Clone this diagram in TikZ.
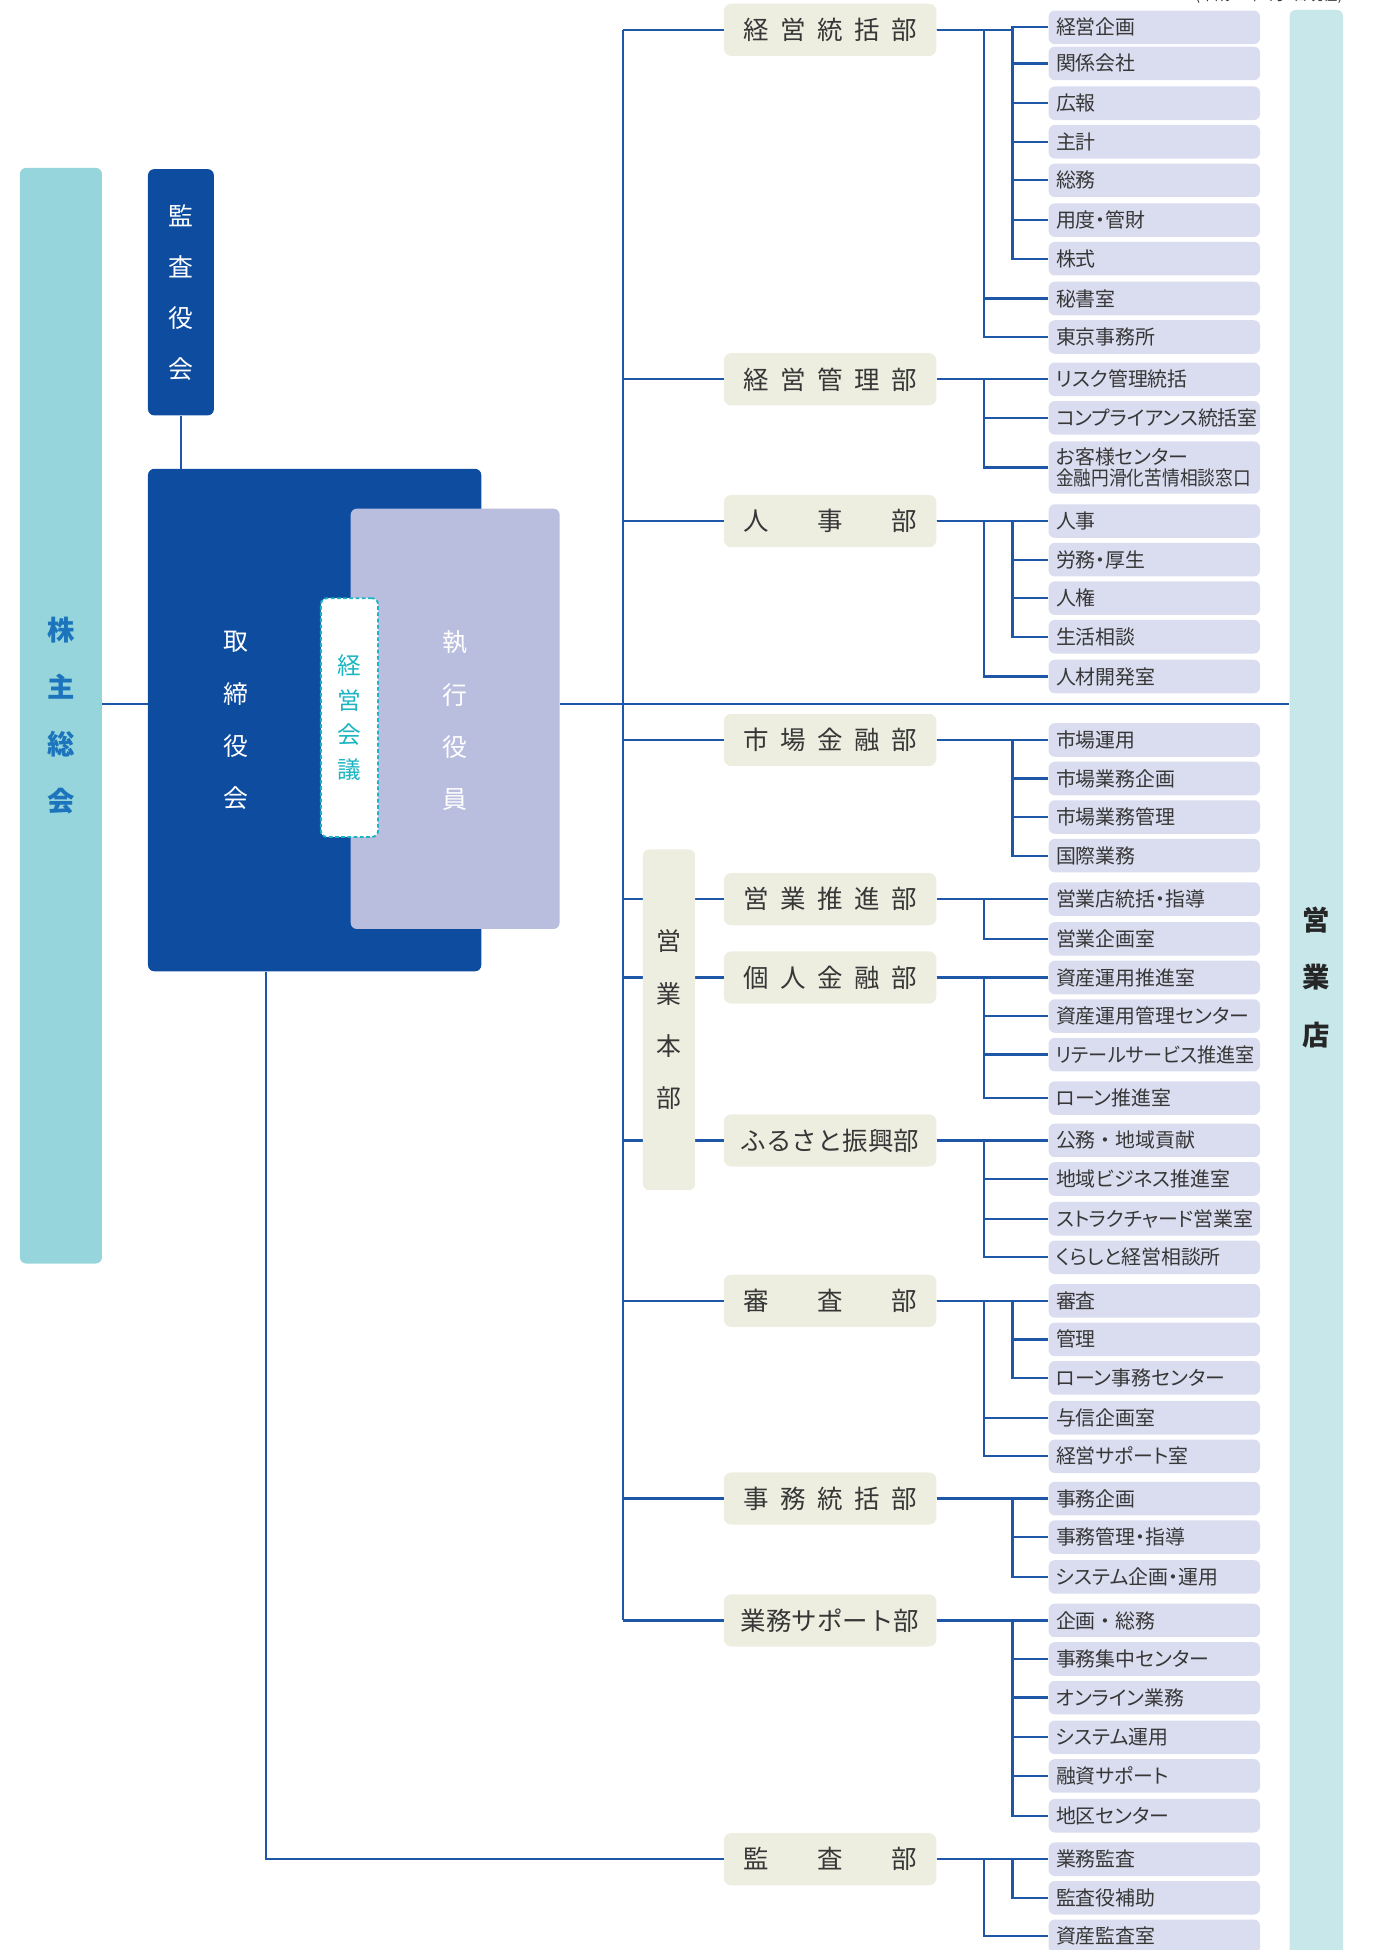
\documentclass[tikz,border=0pt]{standalone}
\usepackage{fontspec}
\setmainfont{Noto Sans CJK JP}
\newfontfamily\propfont[RawFeature=+palt]{Noto Sans CJK JP}
\usepackage{graphicx}
\usepackage{tikz}
\usetikzlibrary{positioning}
\usepackage{xcolor}
\definecolor{boardblue}{RGB}{14,76,159}
\definecolor{linkblue}{RGB}{30,86,168}
\tikzset{boardbox/.style={rectangle, rounded corners=5pt, fill=boardblue, inner sep=0pt},link/.style={linkblue, line width=1.8pt}}
\definecolor{holderteal}{RGB}{150,213,219}
\definecolor{holdertext}{RGB}{28,117,188}
\definecolor{branchteal}{RGB}{199,231,234}
\tikzset{stripbox/.style={rectangle, rounded corners=5pt, inner sep=0pt, align=center}}
\definecolor{officerlilac}{RGB}{186,190,222}
\definecolor{meetingteal}{RGB}{27,181,194}
\definecolor{deptbeige}{RGB}{237,238,224}
\definecolor{unitlilac}{RGB}{218,220,239}
\definecolor{inkgray}{RGB}{55,55,55}
\tikzset{deptnode/.style={rectangle, rounded corners=6pt, fill=deptbeige, minimum width=171pt, minimum height=42pt, inner sep=0pt, text=inkgray, font=\fontsize{20.5}{24}\selectfont},unitnode/.style={rectangle, rounded corners=5pt, fill=unitlilac, anchor=west, minimum width=170pt, minimum height=27pt, inner xsep=6pt, inner ysep=0pt, text width=158pt, align=left, text=inkgray, font=\propfont\fontsize{16}{17}\selectfont}}

\begin{document}
\begin{tikzpicture}[
        x=1pt, y=-1pt,
        vstack/.style={align=center, inner sep=0pt},
        link/.style={linkblue, line width=1.8pt},
    ]
        \useasboundingbox (0,0) rectangle (1107,1568);
        % Date note (cut at the top edge)
        \node[anchor=south east, inner sep=0pt, text=inkgray, font=\propfont\fontsize{12}{14}\selectfont] (asof) at (1080,3) {(平成27年7月1日現在)};
        % Left side
        \node[stripbox, fill=holderteal, minimum width=66pt, minimum height=881pt, text=holdertext, font=\bfseries\fontsize{22}{46}\selectfont] (kabunushi) at (49,575.5) {株\\主\\総\\会};
        \node[boardbox, minimum width=53pt, minimum height=198pt, text=white, align=center, font=\fontsize{20}{41}\selectfont] (kansayaku) at (145.5,235) {監\\査\\役\\会};
        \node[boardbox, minimum width=268pt, minimum height=404pt] (torishimari) at (253,579) {};
        \node[vstack, text=white, font=\fontsize{20}{42}\selectfont] (torishimaritext) at (190,579.5) {取\\締\\役\\会};
        \node[boardbox, fill=officerlilac, minimum width=168pt, minimum height=338pt] (shikko) at (366,578) {};
        \node[vstack, text=white, font=\fontsize{20}{42}\selectfont] (shikkotext) at (366,579.5) {執\\行\\役\\員};
        \node[rectangle, rounded corners=5pt, fill=white, draw=meetingteal, line width=1.5pt, dash pattern=on 3pt off 2pt, minimum width=46pt, minimum height=192pt, inner sep=0pt, align=center, text=meetingteal, font=\fontsize{19}{28}\selectfont] (kaigi) at (281,577) {経\\営\\会\\議};
        % Right side
        \node[stripbox, fill=branchteal, minimum width=43pt, minimum height=1572pt] (eigyoten) at (1058.5,794) {};
        \node[vstack, text=black!85, font=\bfseries\fontsize{22}{46}\selectfont] (eigyotentext) at (1058.5,786) {営\\業\\店};
        % Departments
        \node[deptnode] (keieitokatsu) at (667.5,24) {\makebox[140pt][s]{経\hfill 営\hfill 統\hfill 括\hfill 部}};
        \node[deptnode] (keieikanri) at (667.5,305) {\makebox[140pt][s]{経\hfill 営\hfill 管\hfill 理\hfill 部}};
        \node[deptnode] (jinji) at (667.5,419) {\makebox[140pt][s]{人\hfill 事\hfill 部}};
        \node[deptnode] (shijo) at (667.5,595) {\makebox[140pt][s]{市\hfill 場\hfill 金\hfill 融\hfill 部}};
        \node[deptnode] (eigyosuishin) at (667.5,723) {\makebox[140pt][s]{営\hfill 業\hfill 推\hfill 進\hfill 部}};
        \node[deptnode] (kojin) at (667.5,786) {\makebox[140pt][s]{個\hfill 人\hfill 金\hfill 融\hfill 部}};
        \node[deptnode] (furusato) at (667.5,917) {ふるさと振興部};
        \node[deptnode] (shinsa) at (667.5,1046) {\makebox[140pt][s]{審\hfill 査\hfill 部}};
        \node[deptnode] (jimu) at (667.5,1205) {\makebox[140pt][s]{事\hfill 務\hfill 統\hfill 括\hfill 部}};
        \node[deptnode] (gyomusupport) at (667.5,1303) {業務サポート部};
        \node[deptnode] (kansabu) at (667.5,1495) {\makebox[140pt][s]{監\hfill 査\hfill 部}};
        % Lines
        \coordinate (mainline) at (0,566);
        \draw[link] (kabunushi.east |- mainline) -- (torishimari.west |- mainline);
        \draw[link] (shikko.east |- mainline) -- (eigyoten.west |- mainline);
        \draw[link, line width=1.2pt] (kansayaku.south) -- (kansayaku.south |- torishimari.north);
        \draw[link] ([xshift=-81pt]keieitokatsu.west) -- ([xshift=-81pt]gyomusupport.west);
        \foreach \dept in {keieitokatsu, keieikanri, jinji, shijo, eigyosuishin, kojin, furusato, shinsa, jimu, gyomusupport} {
            \draw[link] (\dept.west) -- ++(-81,0);
        }
        \draw[link] ([xshift=-39pt]torishimari.south) |- (kansabu.west);
        % Units
        \foreach \y/\bus/\dept/\txt in {
            22/61/keieitokatsu/経営企画,
            51/61/keieitokatsu/関係会社,
            83/61/keieitokatsu/広報,
            114/61/keieitokatsu/主計,
            145/61/keieitokatsu/総務,
            177/61/keieitokatsu/用度・管財,
            208/61/keieitokatsu/株式,
            240/38/keieitokatsu/秘書室,
            271/38/keieitokatsu/東京事務所,
            305/38/keieikanri/リスク管理統括,
            336/38/keieikanri/コンプライアンス統括室,
            419/61/jinji/人事,
            450/61/jinji/労務・厚生,
            481/61/jinji/人権,
            512/61/jinji/生活相談,
            544/38/jinji/人材開発室,
            595/61/shijo/市場運用,
            626/61/shijo/市場業務企画,
            657/61/shijo/市場業務管理,
            688/61/shijo/国際業務,
            723/38/eigyosuishin/営業店統括・指導,
            755/38/eigyosuishin/営業企画室,
            786/38/kojin/資産運用推進室,
            817/38/kojin/資産運用管理センター,
            848/38/kojin/{\scalebox{0.96}[1]{リテールサービス推進室}},
            883/38/kojin/ローン推進室,
            917/38/furusato/公務{\rmfamily ・}地域貢献,
            948/38/furusato/地域ビジネス推進室,
            980/38/furusato/ストラクチャード営業室,
            1011/38/furusato/くらしと経営相談所,
            1046/61/shinsa/審査,
            1077/61/shinsa/管理,
            1108/61/shinsa/ローン事務センター,
            1140/38/shinsa/与信企画室,
            1171/38/shinsa/経営サポート室,
            1205/61/jimu/事務企画,
            1236/61/jimu/事務管理・指導,
            1268/61/jimu/システム企画・運用,
            1303/61/gyomusupport/企画{\rmfamily ・}総務,
            1334/61/gyomusupport/事務集中センター,
            1365/61/gyomusupport/オンライン業務,
            1397/61/gyomusupport/システム運用,
            1428/61/gyomusupport/融資サポート,
            1460/61/gyomusupport/地区センター,
            1495/61/kansabu/業務監査,
            1526/61/kansabu/監査役補助,
            1557/38/kansabu/資産監査室} {
            \node[unitnode] (unit\y) at (843,\y) {\txt};
            \draw[link] (\dept.east) -- ([xshift=\bus pt]\dept.east) |- (unit\y.west);
        }
        \node[unitnode, minimum height=42pt] (unit376) at (843,376) {お客様センター\\\scalebox{0.89}[1]{金融円滑化苦情相談窓口}};
        \draw[link] ([xshift=38pt]keieikanri.east) |- (unit376.west);
        % Sales headquarters (over the lines)
        \node[stripbox, fill=deptbeige, minimum width=42pt, minimum height=274pt, text=inkgray, font=\fontsize{20}{42}\selectfont] (eigyohonbu) at (538,820) {営\\業\\本\\部};
    \end{tikzpicture}
\end{document}
